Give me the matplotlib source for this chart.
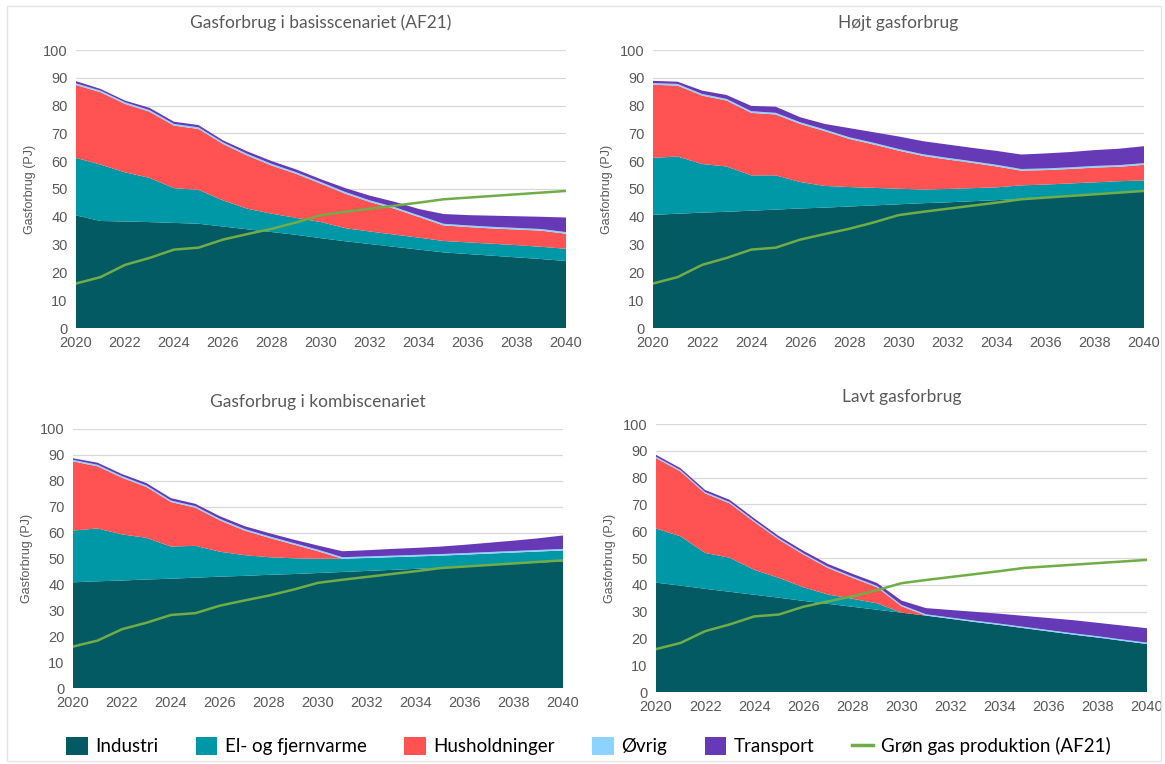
"""Stacked gas consumption per sector for four scenarios, with green gas production."""
import matplotlib

matplotlib.use("Agg")
import matplotlib.pyplot as plt
from matplotlib.lines import Line2D
from matplotlib.patches import Patch, Rectangle

YEARS = list(range(2020, 2041))

SECTORS = ["Industri", "El- og fjernvarme", "Husholdninger", "Øvrig", "Transport"]
SECTOR_COLORS = ["#045A62", "#0097A7", "#FF5252", "#8DD3FF", "#6639B7"]
GREEN_LABEL = "Grøn gas produktion (AF21)"
GREEN_COLOR = "#70AD47"

TITLES = [
    "Gasforbrug i basisscenariet (AF21)",
    "Højt gasforbrug",
    "Gasforbrug i kombiscenariet",
    "Lavt gasforbrug",
]

# green gas production (AF21), same line in every panel
green_gas = [16.0, 18.3, 22.7, 25.2, 28.2, 28.9, 31.8, 33.8, 35.7, 38.0, 40.6,
             41.8, 42.9, 44.0, 45.1, 46.3, 46.9, 47.5, 48.1, 48.7, 49.3]

# basisscenariet (AF21)
basis_industri = [40.5, 38.5, 38.3, 38.1, 37.8, 37.5, 36.5, 35.5, 34.5, 33.5, 32.3,
                  31.2, 30.2, 29.2, 28.2, 27.2, 26.6, 26.0, 25.4, 24.8, 24.1]
basis_el = [20.7, 20.3, 17.7, 15.9, 12.5, 12.2, 9.4, 7.4, 6.6, 6.1, 5.8,
            4.7, 4.5, 4.4, 4.3, 4.1, 4.2, 4.3, 4.4, 4.4, 4.4]
basis_hush = [26.2, 26.0, 24.6, 23.8, 22.5, 21.9, 20.3, 19.1, 17.3, 15.8, 13.8,
              12.4, 10.6, 9.3, 7.4, 5.6, 5.5, 5.5, 5.6, 5.8, 5.4]
basis_ovrig = [0.6] * 21
basis_transport = [0.8, 0.6, 0.6, 0.8, 0.8, 0.8, 0.7, 0.9, 1.0, 1.0, 1.0,
                   1.4, 1.7, 1.9, 2.3, 3.5, 3.7, 4.0, 4.2, 4.4, 5.2]

# højt gasforbrug
hoej_industri = [40.7, 41.1, 41.5, 41.8, 42.2, 42.6, 43.0, 43.3, 43.7, 44.1, 44.5,
                 44.9, 45.2, 45.6, 46.0, 46.4, 46.9, 47.5, 48.0, 48.6, 49.2]
hoej_el = [20.5, 20.6, 17.5, 16.3, 12.7, 12.3, 9.5, 7.8, 7.0, 6.3, 5.6,
           4.9, 4.8, 4.7, 4.6, 4.9, 4.7, 4.5, 4.4, 4.2, 3.9]
hoej_hush = [26.3, 25.5, 24.6, 23.7, 22.5, 21.9, 20.9, 19.7, 17.3, 15.6, 13.7,
             12.1, 10.6, 9.1, 7.5, 5.3, 5.2, 5.2, 5.3, 5.2, 5.6]
hoej_ovrig = [0.6] * 21
hoej_transport = [0.8, 0.8, 1.2, 1.4, 1.9, 2.2, 1.8, 2.0, 3.3, 3.8, 4.5,
                  4.7, 4.8, 4.8, 5.0, 5.2, 5.4, 5.5, 5.7, 5.9, 6.1]

# kombiscenariet
kombi_industri = [40.8, 41.2, 41.5, 41.9, 42.2, 42.6, 43.0, 43.3, 43.7, 44.0, 44.4,
                  44.8, 45.2, 45.6, 46.0, 46.4, 46.9, 47.4, 47.9, 48.4, 48.9]
kombi_el = [20.0, 20.4, 17.8, 16.1, 12.4, 12.3, 9.6, 8.0, 6.8, 6.1, 5.5,
            5.1, 5.0, 4.9, 4.8, 4.7, 4.6, 4.5, 4.4, 4.3, 4.2]
kombi_hush = [26.7, 24.0, 21.9, 19.6, 17.2, 14.7, 12.1, 9.5, 7.5, 5.3, 2.9,
              0.0, 0.0, 0.0, 0.0, 0.0, 0.0, 0.0, 0.0, 0.0, 0.0]
kombi_ovrig = [0.6] * 21
kombi_transport = [0.6, 0.8, 0.8, 0.9, 0.9, 0.9, 1.0, 1.1, 1.2, 1.3, 1.6,
                   2.3, 2.4, 2.6, 2.7, 2.9, 3.2, 3.6, 4.0, 4.5, 5.2]

# lavt gasforbrug
lavt_industri = [40.8, 39.7, 38.5, 37.4, 36.3, 35.2, 34.0, 32.9, 31.8, 30.7, 29.6,
                 28.5, 27.3, 26.1, 25.0, 23.8, 22.6, 21.4, 20.3, 19.1, 17.9]
lavt_el = [20.2, 18.4, 13.4, 12.7, 9.3, 7.4, 5.1, 3.5, 3.0, 2.4, 0.0,
           0.0, 0.0, 0.0, 0.0, 0.0, 0.0, 0.0, 0.0, 0.0, 0.0]
lavt_hush = [26.3, 24.2, 22.2, 20.3, 17.9, 14.3, 12.2, 9.9, 7.8, 6.0, 2.4,
             0.0, 0.0, 0.0, 0.0, 0.0, 0.0, 0.0, 0.0, 0.0, 0.0]
lavt_ovrig = [0.5] * 21
lavt_transport = [0.7, 0.7, 0.8, 0.8, 0.8, 0.8, 0.9, 1.0, 1.0, 1.1, 1.6,
                  2.3, 2.8, 3.3, 3.7, 4.1, 4.5, 4.9, 5.0, 5.2, 5.4]

SCENARIOS = [
    (basis_industri, basis_el, basis_hush, basis_ovrig, basis_transport),
    (hoej_industri, hoej_el, hoej_hush, hoej_ovrig, hoej_transport),
    (kombi_industri, kombi_el, kombi_hush, kombi_ovrig, kombi_transport),
    (lavt_industri, lavt_el, lavt_hush, lavt_ovrig, lavt_transport),
]

W, H = 1165, 764
# axes boxes in pixels: left, top (y=100), right, bottom (y=0)
AXES_PX = [
    (76, 50, 566, 328),
    (653, 50, 1144, 328),
    (73, 429, 563, 688),
    (656, 424, 1147, 692),
]

TEXT_GRAY = "#595959"
TITLE_FONT = ["Lato", "DejaVu Sans"]


def draw_panel(ax, series, title):
    ax.stackplot(YEARS, *series, colors=SECTOR_COLORS, linewidth=0, zorder=2)
    ax.plot(YEARS, green_gas, color=GREEN_COLOR, linewidth=1.8, zorder=3)
    ax.set_xlim(YEARS[0], YEARS[-1])
    ax.set_ylim(0, 100)
    ax.set_yticks(range(0, 101, 10))
    ax.set_xticks(range(2020, 2041, 2))
    ax.grid(axis="y", color="#d9d9d9", linewidth=0.9, zorder=0)
    ax.set_axisbelow(True)
    for spine in ax.spines.values():
        spine.set_visible(False)
    ax.tick_params(length=0, labelsize=10.5, colors=TEXT_GRAY, pad=6)
    ax.set_ylabel("Gasforbrug (PJ)", fontsize=9, color=TEXT_GRAY, labelpad=5)
    ax.set_title(title, fontsize=12.5, color=TEXT_GRAY, family=TITLE_FONT, pad=16)


def main():
    plt.rcParams["font.family"] = ["Liberation Sans", "DejaVu Sans"]
    fig = plt.figure(figsize=(W / 100, H / 100), dpi=100)
    fig.patches.append(Rectangle((7 / W, 3 / H), 1154 / W, 755 / H, transform=fig.transFigure,
                                 fill=False, edgecolor="#e3e3e3", linewidth=1.0))
    for (left, top, right, bottom), series, title in zip(AXES_PX, SCENARIOS, TITLES):
        ax = fig.add_axes([left / W, 1 - bottom / H, (right - left) / W, (bottom - top) / H])
        draw_panel(ax, series, title)

    handles = [Patch(facecolor=c, edgecolor="none") for c in SECTOR_COLORS]
    handles.append(Line2D([0], [0], color=GREEN_COLOR, linewidth=2.5))
    fig.legend(handles, SECTORS + [GREEN_LABEL], loc="center", bbox_to_anchor=(0.505, 1 - 746 / H),
               ncol=6, frameon=False, handlelength=1.15, handleheight=1.15, handletextpad=0.4,
               columnspacing=2.0, prop={"family": TITLE_FONT, "size": 13.5})
    fig.savefig("out.png", dpi=100)
    plt.close(fig)


if __name__ == "__main__":
    main()
